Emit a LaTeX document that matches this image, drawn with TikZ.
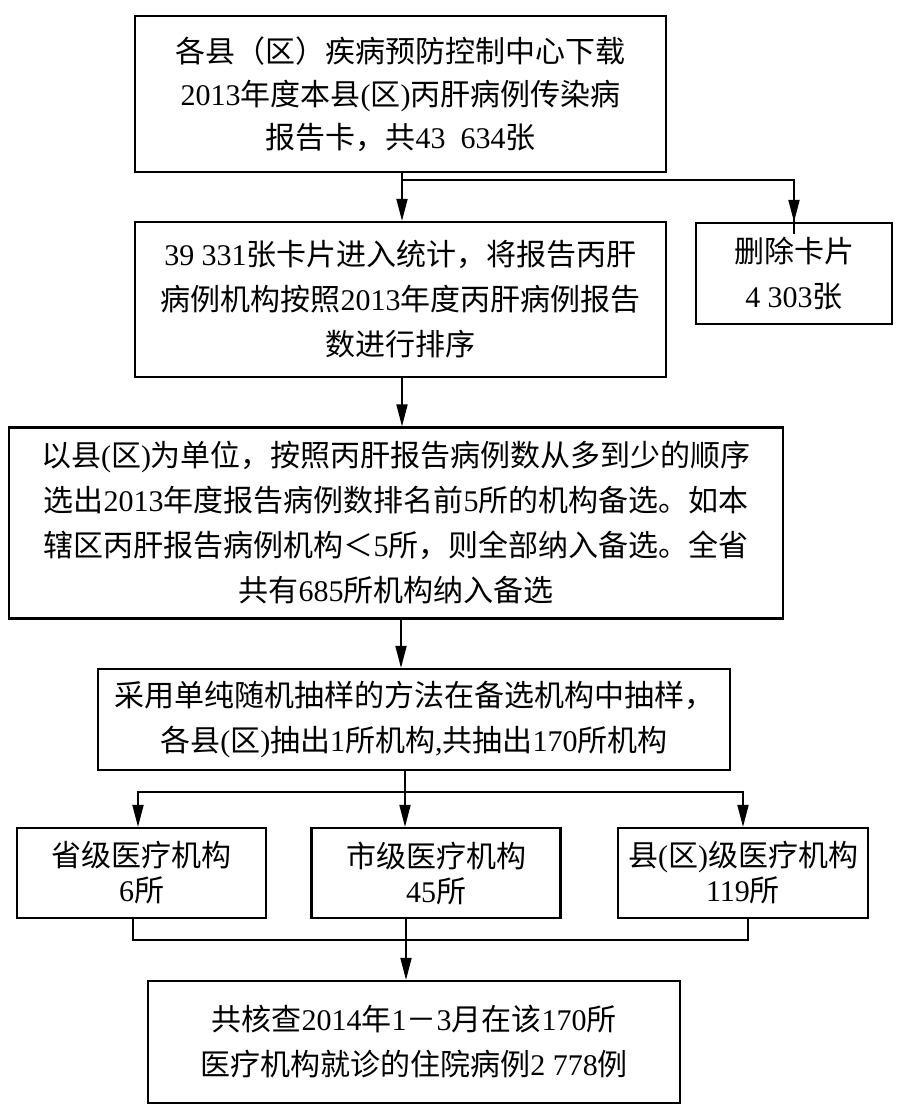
\documentclass[tikz,border=0pt]{standalone}
\usepackage{fontspec}
\setmainfont{Noto Sans CJK SC}
\newfontfamily\tnr{Liberation Serif}
\usetikzlibrary{arrows.meta}
\newcommand\N[1]{{\tnr #1}}
\begin{document}
\begin{tikzpicture}[x=1pt,y=-1pt,
  box/.style={draw, line width=2.2pt, inner sep=0pt, align=center, font=\fontsize{30}{45}\selectfont},
  rowbox/.style={box, minimum width=249pt, minimum height=90pt, font=\fontsize{30}{35}\selectfont},
  conn/.style={line width=1.8pt},
  arr/.style={conn, -{Triangle[length=22pt,width=11pt]}}]
\useasboundingbox (0,0) rectangle (912,1118);
\fill[white] (0,0) rectangle (912,1118);
\node[box, minimum width=531pt, minimum height=156pt, font=\fontsize{30}{43}\selectfont] (b1) at (400.5,94) {各县（区）疾病预防控制中心下载\\\N{2013}年度本县\N{(}区\N{)}丙肝病例传染病\\报告卡，共\N{43\hspace{0.5em}634}张};
\node[box, minimum width=531pt, minimum height=155pt] (b2) at (400.5,299.5) {\N{39 331}张卡片进入统计，将报告丙肝\\病例机构按照\N{2013}年度丙肝病例报告\\数进行排序};
\node[box, minimum width=196pt, minimum height=101pt] (del) at (794,273.5) {删除卡片\\\N{4 303}张};
\node[box, minimum width=774pt, minimum height=191pt] (b3) at (396,523) {以县\N{(}区\N{)}为单位，按照丙肝报告病例数从多到少的顺序\\选出\N{2013}年度报告病例数排名前\N{5}所的机构备选。如本\\辖区丙肝报告病例机构＜\N{5}所，则全部纳入备选。全省\\共有\N{685}所机构纳入备选};
\node[box, minimum width=632pt, minimum height=101pt] (b4) at (414,719.5) {采用单纯随机抽样的方法在备选机构中抽样，\\各县\N{(}区\N{)}抽出\N{1}所机构\N{,}共抽出\N{170}所机构};
\node[rowbox] (ra) at (141.5,873) {省级医疗机构\\\N{6}所};
\node[rowbox] (rb) at (436,873) {市级医疗机构\\\N{45}所};
\node[rowbox, minimum width=250pt] (rc) at (743,873) {县\N{(}区\N{)}级医疗机构\\\N{119}所};
\node[box, minimum width=532pt, minimum height=122pt] (fin) at (414,1042) {共核查\N{2014}年\N{1}－\N{3}月在该\N{170}所\\医疗机构就诊的住院病例\N{2 778}例};
% connectors
\coordinate (j1) at (402,180);
\draw[arr] (b1.south -| j1) -- (b2.north -| j1);
\draw[conn] (j1) -| ([yshift=-12pt]del.north);
\draw[arr] (del.north |- j1) -- (del.north);
\coordinate (k1) at (402,400);
\draw[arr] (b2.south -| k1) -- (b3.north -| k1);
\coordinate (k2) at (401,640);
\draw[arr] (b3.south -| k2) -- (b4.north -| k2);
\coordinate (j2) at (405,792);
\draw[conn] (b4.south -| j2) -- (j2);
\draw[arr] (j2) -| ([xshift=-3.5pt]ra.north);
\draw[arr] (j2) -- (j2 |- rb.north);
\draw[arr] (j2) -| (rc.north);
\coordinate (j3) at (406,940);
\draw[conn] ([xshift=-8.5pt]ra.south) |- (j3) -| ([xshift=5pt]rc.south);
\draw[conn] (rb.south -| j3) -- (j3);
\draw[arr] (j3) -- (fin.north -| j3);
\end{tikzpicture}
\end{document}
